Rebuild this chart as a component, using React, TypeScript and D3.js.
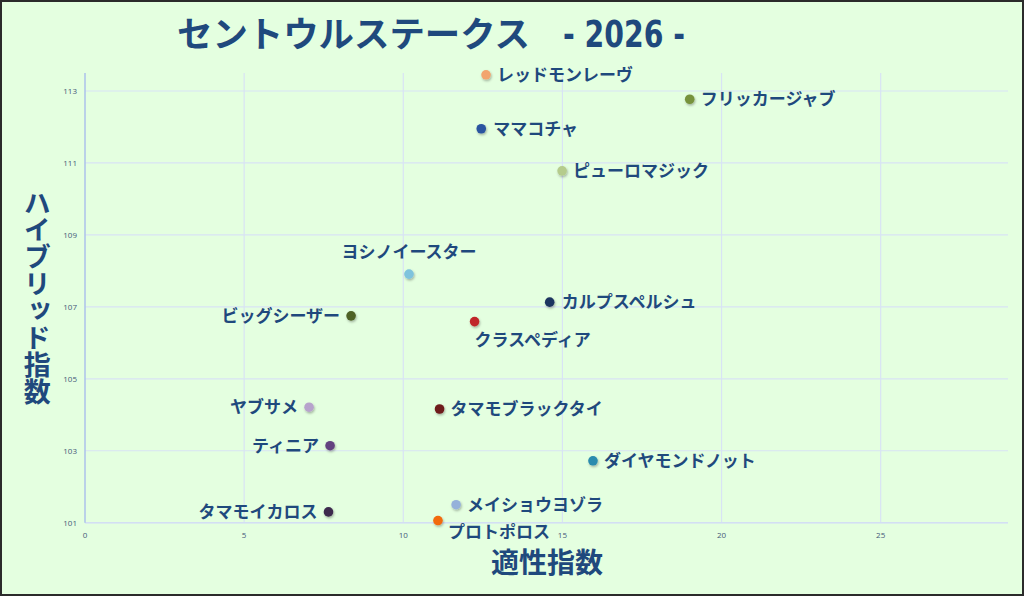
import React from "react";
import * as d3 from "d3";

const horses = [
  "レッドモンレーヴ", "フリッカージャブ", "ママコチャ", "ピューロマジック", "ヨシノイースター",
  "カルプスペルシュ", "ビッグシーザー", "クラスペディア", "ヤブサメ", "タマモブラックタイ",
  "ティニア", "ダイヤモンドノット", "メイショウヨゾラ", "タマモイカロス", "プロトポロス",
];
const aptitude = [12.6, 19.0, 12.45, 14.99, 10.18, 14.6, 8.36, 12.24, 7.04, 11.14, 7.7, 15.96, 11.66, 7.65, 11.09];
const hybrid = [113.45, 112.77, 111.95, 110.78, 107.91, 107.13, 106.75, 106.59, 104.21, 104.16, 103.14, 102.72, 101.5, 101.3, 101.06];
const xTicks = [0, 5, 10, 15, 20, 25];
const yTicks = [101, 103, 105, 107, 109, 111, 113];

const pointColors = [
  "#F2A46E", "#77933C", "#2955A0", "#B5CC8C", "#7FC3DD",
  "#1F3460", "#4F6228", "#C0282A", "#B7A3CC", "#6E1A1A",
  "#63437F", "#2A8BAE", "#95B1DA", "#3D2B4E", "#F26A0C",
];
// label placement: [anchor, dx, dy]
const labelPlace: [string, number, number][] = [
  ["start", 11, 0], ["start", 11, 0], ["start", 12, 0], ["start", 11, 0], ["middle", 0, -22],
  ["start", 12, 0], ["end", -11, 0], ["start", 0, 18], ["end", -11, 0], ["start", 11, 0],
  ["end", -11, 0], ["start", 11, 0], ["start", 11, 0], ["end", -11, 0], ["start", 10, 11],
];

const W = 1024, H = 596;
const M = { left: 85, right: 1008, top: 73, bottom: 522.7 };
const TEXT = "#1F497D";
const JP = "'Noto Sans CJK JP', 'Noto Sans', sans-serif";

export default function App() {
  const x = d3.scaleLinear().domain([0, 29]).range([M.left, M.right]);
  const y = d3.scaleLinear().domain([101, 113.5]).range([M.bottom, M.top]);
  return (
    <svg width={W} height={H} style={{ position: "fixed", left: 0, top: 0 }}>
      <defs>
        <filter id="sh" x="-50%" y="-50%" width="200%" height="200%">
          <feDropShadow dx="0.8" dy="1.5" stdDeviation="1.2" floodColor="#000" floodOpacity="0.3" />
        </filter>
      </defs>
      <rect x={1} y={1} width={W - 2} height={H - 2} fill="#E4FFE0" stroke="#2b2b2b" strokeWidth={2} />
      {/* grid */}
      {yTicks.map((t) => (
        <line key={"gy" + t} x1={M.left} x2={M.right} y1={y(t)} y2={y(t)} stroke="#D8E3F5" strokeWidth={1.2} />
      ))}
      {xTicks.filter((t) => t > 0).map((t) => (
        <line key={"gx" + t} x1={x(t)} x2={x(t)} y1={M.top} y2={M.bottom} stroke="#D8E3F5" strokeWidth={1.2} />
      ))}
      <line x1={M.left} x2={M.right} y1={M.bottom} y2={M.bottom} stroke="#D3DFF3" strokeWidth={1.6} />
      <line x1={M.left} x2={M.left} y1={M.top} y2={M.bottom} stroke="#AFC6EA" strokeWidth={1.6} />
      {/* tick labels */}
      {yTicks.map((t) => (
        <text key={"ty" + t} x={77} y={y(t)} dy="0.35em" textAnchor="end" fontSize={8} fill="#44597A" fontFamily="'Open Sans', sans-serif">{t}</text>
      ))}
      {xTicks.map((t) => (
        <text key={"tx" + t} x={x(t)} y={538} textAnchor="middle" fontSize={8} fill="#44597A" fontFamily="'Open Sans', sans-serif">{t}</text>
      ))}
      {/* points */}
      {horses.map((h, i) => (
        <circle key={"p" + h} cx={x(aptitude[i])} cy={y(hybrid[i])} r={4.8} fill={pointColors[i]} filter="url(#sh)" />
      ))}
      {horses.map((h, i) => {
        const [anchor, dx, dy] = labelPlace[i];
        return (
          <text key={"l" + h} x={x(aptitude[i]) + dx} y={y(hybrid[i]) + dy} dy="0.36em" textAnchor={anchor}
            fontSize={17} fontWeight="bold" fill={TEXT} fontFamily={JP}>{h}</text>
        );
      })}
      {/* title */}
      <text x={177} y={47} fontSize={35.5} fontWeight="bold" fill={TEXT} fontFamily={JP}
        textLength={353} lengthAdjust="spacingAndGlyphs">セントウルステークス</text>
      <text x={563} y={47} fontSize={37} fontWeight="bold" fill={TEXT} fontFamily="'DejaVu Sans Condensed', 'Liberation Sans', sans-serif"
        textLength={122} lengthAdjust="spacingAndGlyphs">- 2026 -</text>
      {/* axis titles */}
      <text x={547} y={563} dy="0.35em" textAnchor="middle" fontSize={28} fontWeight="bold" fill={TEXT} fontFamily={JP}>適性指数</text>
      <text x={33} y={297} textAnchor="middle" fontSize={27} fontWeight="bold" fill={TEXT} fontFamily={JP}
        style={{ writingMode: "vertical-rl", textOrientation: "upright" } as any} dominantBaseline="middle">ハイブリッド指数</text>
    </svg>
  );
}
